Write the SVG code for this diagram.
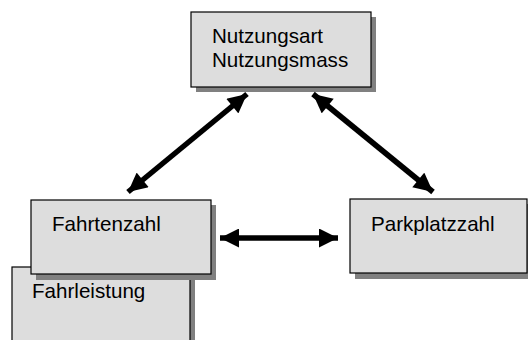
<svg xmlns="http://www.w3.org/2000/svg" width="528" height="340" viewBox="0 0 528 340">
<defs>
<style>
.box{fill:#dddddd;stroke:#000;stroke-width:1.2}
.shadow{fill:#808080}
.t{font-family:"Liberation Sans",Arial,sans-serif;font-size:20.6px;fill:#000}
.arr{stroke:#000;stroke-width:5.5;fill:none;marker-start:url(#ah);marker-end:url(#ah)}
</style>
<marker id="ah" viewBox="0 0 10 10" refX="10" refY="5" markerUnits="userSpaceOnUse" markerWidth="20" markerHeight="19" orient="auto-start-reverse">
<path d="M0,0 L10,5 L0,10 Z" fill="#000"/>
</marker>
</defs>
<rect width="528" height="340" fill="#fff"/>
<g id="fahrleistung">
<rect class="shadow" x="17" y="272" width="178" height="80"/>
<rect class="box" x="12" y="267" width="178" height="85"/>
<text class="t" x="32" y="298">Fahrleistung</text>
</g>
<g id="fahrtenzahl">
<rect class="shadow" x="36" y="205" width="180" height="75"/>
<rect class="box" x="31" y="200" width="180" height="74"/>
<text class="t" x="52" y="231">Fahrtenzahl</text>
</g>
<g id="nutzung">
<rect class="shadow" x="196" y="17" width="180" height="75"/>
<rect class="box" x="191" y="12" width="180" height="75"/>
<text class="t" x="212" y="43">Nutzungsart</text>
<text class="t" x="212" y="67">Nutzungsmass</text>
</g>
<g id="parkplatzzahl">
<rect class="shadow" x="355" y="204" width="180" height="75"/>
<rect class="box" x="350" y="199" width="177" height="74"/>
<text class="t" x="371" y="231">Parkplatzzahl</text>
</g>
<g id="connectors">
<line class="arr" x1="128" y1="192" x2="247" y2="94"/>
<line class="arr" x1="313" y1="94" x2="433" y2="192"/>
<line class="arr" x1="220" y1="238" x2="338" y2="238"/>
</g>
</svg>
